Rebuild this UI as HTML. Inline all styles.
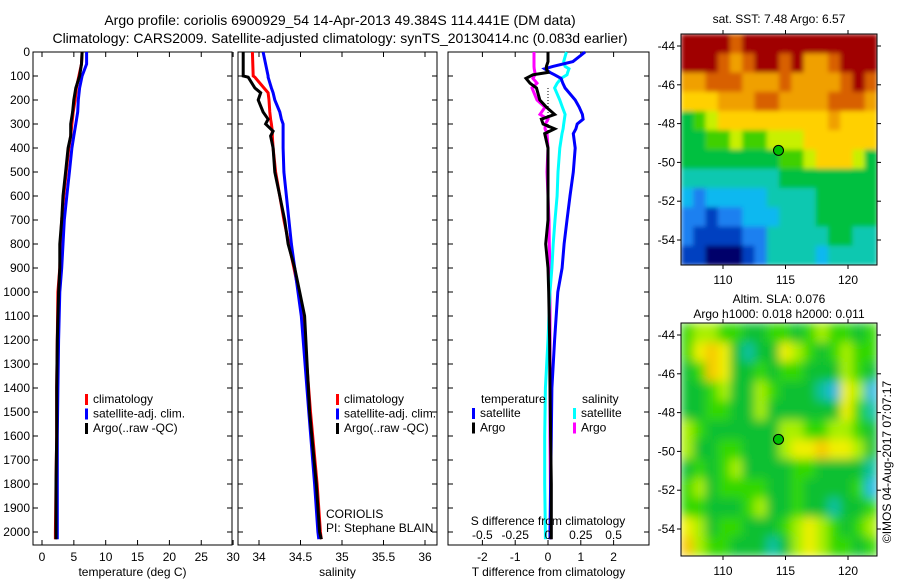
<!DOCTYPE html>
<html><head><meta charset="utf-8">
<style>
html,body{margin:0;padding:0;background:#fff;}
svg{display:block;font-family:"Liberation Sans",sans-serif;}
text{fill:#000;}
</style></head>
<body>
<svg id="fig" width="900" height="580" viewBox="0 0 900 580" xmlns="http://www.w3.org/2000/svg">
<defs>
<filter id="blurS" x="0" y="0" width="1" height="1"><feGaussianBlur stdDeviation="2.5" edgeMode="duplicate"/></filter>
<filter id="blurL" x="0" y="0" width="1" height="1"><feGaussianBlur stdDeviation="5" edgeMode="duplicate"/></filter>
</defs>
<text x="340" y="25" font-size="14" text-anchor="middle">Argo profile: coriolis 6900929_54 14-Apr-2013 49.384S 114.441E (DM data)</text>
<text x="340" y="43" font-size="14" text-anchor="middle">Climatology: CARS2009. Satellite-adjusted climatology: synTS_20130414.nc (0.083d earlier)</text>
<g id="g"></g>
</svg>
<script>
// ---- profile data ----
const depths = [0,50,100,150,200,250,300,350,400,500,600,700,800,900,1000,1200,1400,1600,1800,2000,2030];
const tempArgo = [6.3,6.2,5.9,5.3,5.0,4.8,4.5,4.5,4.1,3.7,3.3,3.1,2.8,2.8,2.6,2.4,2.3,2.3,2.2,2.2,2.2];
const tempClim = [6.3,6.2,5.8,5.4,5.2,4.9,4.7,4.5,4.2,3.8,3.4,3.1,2.9,2.8,2.5,2.4,2.3,2.3,2.2,2.1,2.1];
const tempSat  = [7.0,7.0,6.3,5.9,5.7,5.6,5.3,5.0,4.7,4.3,3.9,3.5,3.3,3.1,2.8,2.6,2.5,2.4,2.4,2.4,2.4];
const salDepths = [0,100,105,150,170,200,250,280,300,330,350,400,500,600,700,800,900,1000,1100,1500,1800,2000,2030];
const salArgo = [33.81,33.81,33.87,33.95,34.02,33.99,34.05,34.11,34.08,34.17,34.14,34.17,34.19,34.25,34.31,34.35,34.43,34.49,34.55,34.61,34.69,34.73,34.75];
const salClim = [33.92,33.93,33.95,34.06,34.11,34.12,34.13,34.14,34.15,34.16,34.16,34.17,34.2,34.25,34.3,34.36,34.42,34.48,34.53,34.62,34.7,34.74,34.75];
const salSat  = [34.05,34.11,34.11,34.15,34.17,34.19,34.25,34.27,34.29,34.29,34.29,34.29,34.3,34.33,34.36,34.39,34.43,34.47,34.51,34.6,34.67,34.71,34.72];
const diffDepths = [0,40,60,70,85,95,110,130,150,200,230,260,280,300,320,340,400,500,600,700,800,900,1000,1200,1400,1600,1800,2000,2030];
const dTArgo = [0,0,-0.05,-0.05,0,-0.46,-0.67,-0.55,-0.35,-0.25,-0.05,0.2,-0.2,-0.15,0.2,-0.1,0,0,0,0,-0.07,0,0.02,0.05,0.06,0.08,0.1,0.1,0.1];
const dTSat  = [1.13,0.76,0.15,-0.1,0.06,0.2,0.4,0.45,0.52,0.83,0.95,1.05,1.07,0.89,0.85,0.77,0.83,0.77,0.67,0.58,0.49,0.43,0.3,0.2,0.12,0.1,0.08,0.06,0.06];
const dSArgo = [-0.107,-0.107,-0.107,-0.105,-0.1,-0.1,-0.115,-0.084,-0.122,-0.084,-0.023,-0.061,0,-0.02,-0.023,-0.008,0,-0.008,0,0.008,0.01,0.015,0.015,0.015,0.015,0.015,0.018,0.02,0.02];
const dSSat  = [0.14,0.12,0.13,0.16,0.15,0.145,0.1,0.07,0.05,0.09,0.11,0.13,0.125,0.12,0.115,0.107,0.09,0.076,0.069,0.053,0.04,0.03,0.015,0,-0.02,-0.025,-0.025,-0.02,-0.02];
const depthTicks = [0,100,200,300,400,500,600,700,800,900,1000,1100,1200,1300,1400,1500,1600,1700,1800,1900,2000];
const tempTicks = [0,5,10,15,20,25,30];
const salTicks = [34,34.5,35,35.5,36];
const salTickLabels = ["34","34.5","35","35.5","36"];
const dTTicks = [-2,-1,0,1,2];
const dSTicks = [-0.5,-0.25,0,0.25,0.5];
const dSTickLabels = ["-0.5","-0.25","0","0.25","0.5"];
// ---- map data (colour class per cell) ----
const mapLonTicks = [110,115,120];
const mapLatTicks = [-44,-46,-48,-50,-52,-54];
const argoLon = 114.44, argoLat = -49.38;
const sstGrid = [
[11,11,11,11,10,11,11,11,11,11,11,11,11,11,11,11],
[11,11,11,10,9,10,11,11,10,11,9,9,10,11,11,11],
[9,9,10,10,10,9,9,9,10,9,9,9,9,10,11,10],
[8,8,8,9,9,9,10,10,9,9,9,9,10,10,10,9],
[5,6,7,8,8,8,8,8,8,8,8,8,9,8,8,8],
[5,5,6,6,7,6,6,7,7,7,8,8,8,8,8,8],
[5,5,5,5,5,5,5,5,6,6,7,8,8,8,7,5],
[4,4,4,4,4,4,4,4,5,5,5,5,5,5,5,5],
[3,2,3,3,3,3,3,4,4,4,4,5,5,5,5,5],
[2,2,1,2,2,3,3,3,4,4,4,5,5,5,5,5],
[2,1,1,1,1,2,2,4,4,4,4,4,5,5,4,4],
[1,1,0,0,0,1,2,4,4,4,4,3,4,4,4,4]];
const slaGrid = [
[6,7,7,6,6,5,5,6,6,5,6,7,6,6,5,6],
[6,8,9,8,5,4,5,5,8,7,6,5,6,7,6,6],
[5,6,9,8,5,5,6,5,6,6,5,5,5,7,6,5],
[5,5,6,7,5,5,7,6,5,5,5,4,3,8,7,3],
[5,5,6,6,5,5,7,5,5,5,5,5,5,8,6,4],
[7,6,5,5,5,5,5,5,7,7,6,6,7,7,6,5],
[7,5,5,6,6,5,5,5,7,8,8,9,8,8,7,5],
[5,6,5,6,7,5,5,5,5,6,6,5,5,5,5,4],
[6,7,5,6,6,6,6,5,5,6,5,5,5,5,6,3],
[6,6,5,5,5,6,7,5,5,6,5,5,4,5,5,6],
[8,7,5,6,6,5,5,5,6,7,8,7,6,5,6,7],
[9,7,6,6,5,5,5,4,5,7,8,7,6,6,5,6]];

const sstPal=["#00006a","#0040c0","#1a80f0","#10b8f0","#10c8b0","#00c040","#40d000","#c8f000","#ffd000","#f0a000","#d86000","#a00000"];
const slaPal=["#0040c0","#1a80f0","#10b8f0","#20b8e0","#10c0a0","#10c030","#30d800","#a8f000","#f0f000","#f8c800"];

const NS="http://www.w3.org/2000/svg";
const G=document.getElementById('g');
function mk(tag,attrs,parent){const e=document.createElementNS(NS,tag);for(const k in attrs)e.setAttribute(k,attrs[k]);(parent||G).appendChild(e);return e;}
function txt(s,x,y,attrs,parent){const t=mk('text',Object.assign({x:x,y:y,'font-size':12},attrs||{}),parent);t.textContent=s;return t;}

const TOP=52, BOT=545;
const yD=d=>TOP+d*(532-52)/2000;

function panel(name,x0,x1,xs,ticks,labels,xlabel,drawLeftLabels){
  const g=mk('g',{});
  
  
  mk('rect',{x:x0,y:TOP,width:x1-x0,height:BOT-TOP,fill:'#fff',stroke:'#000','stroke-width':1},g);
  depthTicks.forEach(d=>{
    const y=yD(d);
    mk('line',{x1:x0,x2:x0+5,y1:y,y2:y,stroke:'#000'},g);
    mk('line',{x1:x1-5,x2:x1,y1:y,y2:y,stroke:'#000'},g);
    if(drawLeftLabels){const t=txt(String(d),x0-3,y+4,{'text-anchor':'end'},g);
      
      }
  });
  ticks.forEach((v,i)=>{
    const x=xs(v);
    mk('line',{x1:x,x2:x,y1:BOT,y2:BOT-5,stroke:'#000'},g);
    mk('line',{x1:x,x2:x,y1:TOP,y2:TOP+5,stroke:'#000'},g);
    if(labels){const t=txt(labels[i],x,BOT+16,{'text-anchor':'middle'},g);
      
      }
  });
  const xl=txt(xlabel,(x0+x1)/2,BOT+31,{'text-anchor':'middle'},g);
  
  
  return g;
}
function line(g,name,xs,ys,xv,yv,color,w){
  const pts=xv.map((v,i)=>xs(v).toFixed(1)+','+ys(yv[i]).toFixed(1)).join(' ');
  const p=mk('polyline',{points:pts,fill:'none',stroke:color,'stroke-width':w||3,'stroke-linejoin':'miter'},g);
  
  
}
function legend(g,items,x,y){
  items.forEach((it,i)=>{
    const yy=y+i*14.5;
    mk('rect',{x:x,y:yy-9,width:3,height:11,fill:it[1]},g);
    const t=txt(it[0],x+8,yy,{},g);
    
    
  });
}

// Panel 1 temperature
const xT=v=>42+v*6.37;
const p1=panel('temperature-panel',33,232,xT,tempTicks,tempTicks.map(String),'temperature (deg C)',true);
line(p1,'clim-temp-line',xT,yD,tempClim,depths,'#ff0000');
line(p1,'sat-temp-line',xT,yD,tempSat,depths,'#0000ff');
line(p1,'argo-temp-line',xT,yD,tempArgo,depths,'#000000');
legend(p1,[['climatology','#ff0000'],['satellite-adj. clim.','#0000ff'],['Argo(..raw -QC)','#000000']],85,403);

// Panel 2 salinity
const xS=v=>259+(v-34)*83;
const p2=panel('salinity-panel',238,437,xS,salTicks,salTickLabels,'salinity',false);
line(p2,'clim-sal-line',xS,yD,salClim,salDepths,'#ff0000');
line(p2,'sat-sal-line',xS,yD,salSat,salDepths,'#0000ff');
line(p2,'argo-sal-line',xS,yD,salArgo,salDepths,'#000000');
legend(p2,[['climatology','#ff0000'],['satellite-adj. clim.','#0000ff'],['Argo(..raw -QC)','#000000']],336,403);
const c1=txt('CORIOLIS',326,518,{},p2);
const c2=txt('PI: Stephane BLAIN',326,532,{},p2);

// Panel 3 differences
const xDT=v=>548+v*32.8;
const xDS=v=>548+v*4*32.8;
const p3=panel('difference-panel',448,649,xDT,dTTicks,dTTicks.map(String),'T difference from climatology',false);
mk('line',{x1:548,x2:548,y1:yD(150),y2:yD(460),stroke:'#000','stroke-dasharray':'1,2'},p3);
line(p3,'argo-sdiff-line',xDS,yD,dSArgo,diffDepths,'#ff00ff');
line(p3,'sat-sdiff-line',xDS,yD,dSSat,diffDepths,'#00ffff');
line(p3,'sat-tdiff-line',xDT,yD,dTSat,diffDepths,'#0000ff');
line(p3,'argo-tdiff-line',xDT,yD,dTArgo,diffDepths,'#000000');
dSTicks.forEach((v,i)=>{const t=txt(dSTickLabels[i],xDS(v),539,{'text-anchor':'middle'},p3);
  });
const st=txt('S difference from climatology',548,525,{'text-anchor':'middle'},p3);

const lt=txt('temperature',481,403,{},p3);
const ls=txt('salinity',582,403,{},p3);
legend(p3,[['satellite','#0000ff'],['Argo','#000000']],472,417);
legend(p3,[['satellite','#00ffff'],['Argo','#ff00ff']],573,417);

// Maps
const lonX=lon=>723+(lon-110)*12.5;
const MX0=681,MX1=877;
function map(name,y0,y1,latY,grid,pal,title,filt){
  const g=mk('g',{});
  
  
  const cid='clip-'+name;
  const cp=mk('clipPath',{id:cid},g);
  mk('rect',{x:MX0,y:y0,width:MX1-MX0,height:y1-y0},cp);
  const outer=mk('g',{'clip-path':'url(#'+cid+')'},g);
  const cells=mk('g',{filter:'url(#'+filt+')'},outer);
  const rows=grid.length, cols=grid[0].length;
  const cw=(MX1-MX0)/cols, ch=(y1-y0)/rows;
  grid.forEach((row,r)=>row.forEach((v,c)=>{
    const cell=mk('rect',{x:(MX0+c*cw).toFixed(2),y:(y0+r*ch).toFixed(2),width:(cw+0.6).toFixed(2),height:(ch+0.6).toFixed(2),fill:pal[v]},cells);
    
    
  }));
  mk('rect',{x:MX0,y:y0,width:MX1-MX0,height:y1-y0,fill:'none',stroke:'#000'},g);
  mapLatTicks.forEach(l=>{const y=latY(l);
    mk('line',{x1:MX0-4,x2:MX0,y1:y,y2:y,stroke:'#000'},g);
    mk('line',{x1:MX1,x2:MX1+4,y1:y,y2:y,stroke:'#000'},g);
    const t=txt(String(l),MX0-6,y+4,{'text-anchor':'end'},g);
    });
  mapLonTicks.forEach(l=>{const x=lonX(l);
    mk('line',{x1:x,x2:x,y1:y1,y2:y1+4,stroke:'#000'},g);
    mk('line',{x1:x,x2:x,y1:y0-4,y2:y0,stroke:'#000'},g);
    const t=txt(String(l),x,y1+19,{'text-anchor':'middle'},g);
    });
  const m=mk('circle',{cx:lonX(argoLon),cy:latY(argoLat),r:5,fill:'#00c000',stroke:'#000','stroke-width':1},g);
  
  title.forEach((s,i)=>{const t=txt(s,(MX0+MX1)/2,(i===0?y0-(title.length===1?11:20):y0-5),{'text-anchor':'middle'},g);
    });
}
map('sst-map',34,265,lat=>46+(-44-lat)*19.4,sstGrid,sstPal,['sat. SST: 7.48 Argo: 6.57'],'blurS');
map('sla-map',323,556,lat=>335+(-44-lat)*19.4,slaGrid,slaPal,['Altim. SLA: 0.076','Argo h1000: 0.018 h2000: 0.011'],'blurL');
const cr=txt('©IMOS 04-Aug-2017 07:07:17',0,0,{'text-anchor':'middle',transform:'translate(891,462) rotate(-90)'});

</script>
</body></html>
